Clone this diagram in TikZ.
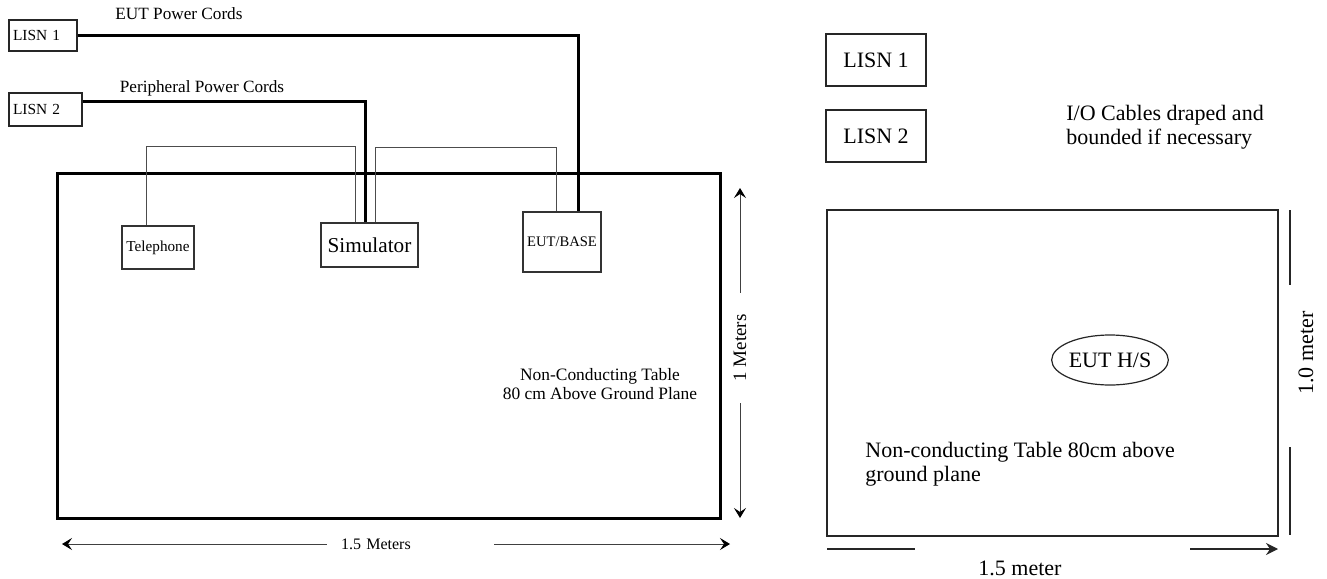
\documentclass[tikz,border=0pt]{standalone}
\usepackage{fontspec}
\setmainfont{Liberation Serif}
\usetikzlibrary{arrows.meta,positioning,shapes.geometric}

\begin{document}
\begin{tikzpicture}[
  x=0.5pt, y=-0.5pt,
  lisnbox/.style={draw=black!85, line width=0.65pt, inner ysep=0pt,
    inner xsep=2pt, align=left, font=\fontsize{7.7}{9}\selectfont},
  unitbox/.style={draw=black!80, line width=0.6pt, inner sep=0pt},
  tablebox/.style={draw, line width=1.5pt, inner sep=0pt},
  cordlabel/.style={inner sep=0pt, font=\fontsize{8.6}{10}\selectfont},
  cord/.style={line width=1.5pt},
  cable/.style={draw=black!70, line width=0.5pt},
  dimarrow/.style={black!75, line width=0.5pt,
    -{Stealth[length=5pt, width=6pt, inset=2pt, color=black]}},
  rbox/.style={draw=black!85, line width=0.6pt, inner sep=0pt,
    font=\fontsize{11}{12}\selectfont},
  rtext/.style={inner sep=0pt, align=left, font=\fontsize{11}{12}\selectfont},
  rline/.style={black!85, line width=0.6pt}
]
\useasboundingbox (0,0) rectangle (1327,578);
% left: LISNs and power cords
\node[lisnbox, text width=30pt, minimum height=15.5pt] (lisnA) at (43,35.5) {LISN 1};
\node[lisnbox, text width=32.5pt, minimum height=16.5pt] (lisnB) at (45.5,109.5) {LISN 2};
\node[cordlabel] (cordlblA) at (179,14) {EUT Power Cords};
\node[cordlabel] (cordlblB) at (202,88) {Peripheral Power Cords};
% left: table and units
\node[tablebox, minimum width=331.5pt, minimum height=172.5pt] (tableL) at (388.5,345.5) {};
\node[unitbox, minimum width=36pt, minimum height=21.5pt,
  font=\fontsize{7.6}{9}\selectfont] (telephone) at (158,247.5) {Telephone};
\node[unitbox, minimum width=48.5pt, minimum height=22pt,
  font=\fontsize{10.6}{12}\selectfont] (simulator) at (369.5,245) {Simulator};
\node[unitbox, minimum width=39pt, minimum height=30pt,
  font=\fontsize{7.3}{9}\selectfont] (eutbase) at (562,242) {EUT/BASE};
\node[inner sep=0pt, align=center, font=\fontsize{8.7}{9.6}\selectfont] (tabtxtL)
  at (600,384) {Non-Conducting Table\\80 cm Above Ground Plane};
% cables between units
\draw[cable] ([xshift=-6pt]telephone.north) -- ++(0,-79) -| ([xshift=-7.25pt]simulator.north);
\draw[cable] ([xshift=2.75pt]simulator.north) -- ++(0,-75) -| ([xshift=-3pt]eutbase.north);
% power cords
\draw[cord] (lisnA.east) -| ([xshift=8pt]eutbase.north);
\draw[cord] ([yshift=4.25pt]lisnB.east) -| ([xshift=-2.25pt]simulator.north);
% left dimensions
\coordinate (vtopL) at (740,188);
\coordinate (vbotL) at (740,518);
\node[rotate=90, minimum width=55pt, inner sep=0pt,
  font=\fontsize{9.5}{11}\selectfont] (vlenL) at (740,348) {1 Meters};
\draw[dimarrow] (vlenL.east) -- (vtopL);
\draw[dimarrow] (vlenL.west) -- (vbotL);
\coordinate (hleftL) at (62,544);
\coordinate (hrightL) at (730,544);
\node[inner xsep=7pt, inner ysep=0pt, text width=69.5pt, align=left,
  font=\fontsize{8}{9}\selectfont] (hlenL) at (410.5,544) {1.5 Meters};
\draw[dimarrow] (hlenL.west) -- (hleftL);
\draw[dimarrow] (hlenL.east) -- (hrightL);
% right: LISNs and note
\node[rbox, minimum width=50pt, minimum height=26pt] (lisnC) at (876,60) {LISN 1};
\node[rbox, minimum width=50pt, minimum height=26pt] (lisnD) at (876,136) {LISN 2};
\node[rtext, anchor=west] (iotext) at (1066,127) {I/O Cables draped and\\bounded if necessary};
% right: table
\node[rbox, minimum width=225.5pt, minimum height=163pt] (tableR) at (1052.5,373) {};
\node[rbox, ellipse, minimum width=57.5pt, minimum height=25pt] (euths) at (1110,360) {EUT H/S};
\node[rtext, anchor=west] (tabtxtR) at (865,464) {Non-conducting Table 80cm above\\ground plane};
% right dimensions
\coordinate (rdimA) at (827,549);
\coordinate (rdimB) at (915,549);
\coordinate (rdimC) at (1190,549);
\coordinate (rdimD) at (1278,549);
\draw[rline] (rdimA) -- (rdimB);
\draw[rline, -{Stealth[length=6pt, width=6pt, inset=2pt]}] (rdimC) -- (rdimD);
\node[rtext] (hlenR) at (1020,568) {1.5 meter};
\coordinate (rvA) at (1290,210);
\coordinate (rvB) at (1290,285);
\coordinate (rvC) at (1290,447);
\coordinate (rvD) at (1290,535);
\draw[rline] (rvA) -- (rvB);
\draw[rline] (rvC) -- (rvD);
\node[rtext, rotate=90] (vlenR) at (1306,353) {1.0 meter};
\end{tikzpicture}
\end{document}
